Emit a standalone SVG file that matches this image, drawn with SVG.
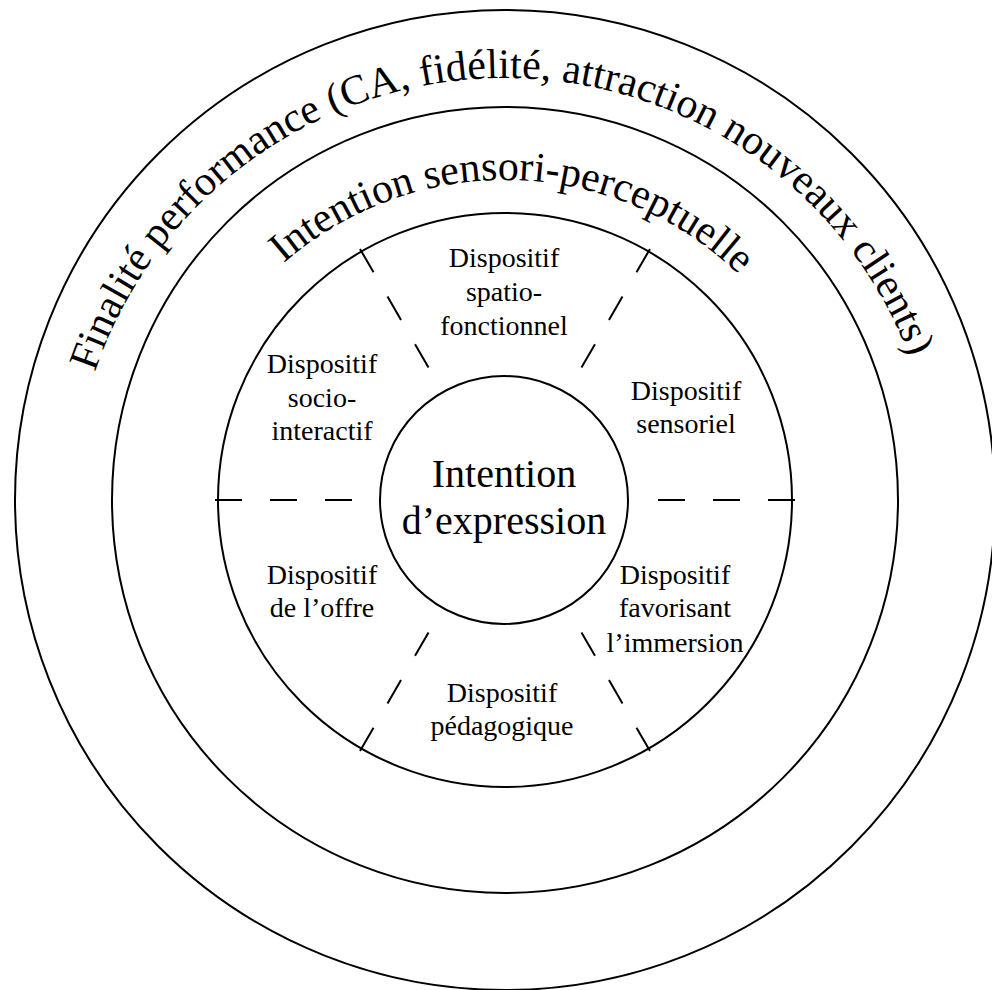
<svg xmlns="http://www.w3.org/2000/svg" width="992" height="990" viewBox="0 0 992 990">
  <style>
    .ring { fill: none; stroke: #000; stroke-width: 2; }
    .div { fill: none; stroke: #000; stroke-width: 2; stroke-dasharray: 27 28; }
    .arc { font-family: "Liberation Serif", "Times New Roman", serif; font-size: 42px; fill: #000; }
    .lbl { font-family: "Liberation Serif", "Times New Roman", serif; font-size: 28px; fill: #000; text-anchor: middle; }
    .core { font-family: "Liberation Serif", "Times New Roman", serif; font-size: 40px; fill: #000; text-anchor: middle; }
  </style>
  <defs>
    <path id="pOuter" d="M 72 511 A 433 433 0 0 1 938 511"/>
    <path id="pMid" d="M 169 516 A 336 336 0 0 1 841 516"/>
  </defs>
  <rect width="992" height="990" fill="#fff"/>

  <g id="ring-finalite">
    <circle class="ring" cx="505" cy="500" r="490"/>
    <text class="arc" text-anchor="middle"><textPath href="#pOuter" startOffset="672">Finalité performance (CA, fidélité, attraction nouveaux clients)</textPath></text>
  </g>

  <g id="ring-intention">
    <circle class="ring" cx="505" cy="500" r="393"/>
    <text class="arc" text-anchor="middle"><textPath href="#pMid" startOffset="536">Intention sensori-perceptuelle</textPath></text>
  </g>

  <g id="ring-dispositifs">
    <circle class="ring" cx="505" cy="500" r="287"/>
  </g>

  <g id="connectors">
    <line class="div" x1="215" y1="500" x2="352.5" y2="500"/>
    <line class="div" x1="795" y1="500" x2="657.5" y2="500"/>
    <line class="div" x1="360" y1="248.9" x2="428.75" y2="367.9"/>
    <line class="div" x1="650" y1="248.9" x2="581.25" y2="367.9"/>
    <line class="div" x1="360" y1="751.1" x2="428.75" y2="632.1"/>
    <line class="div" x1="650" y1="751.1" x2="581.25" y2="632.1"/>
  </g>

  <g id="core">
    <circle class="ring" cx="504" cy="500" r="124"/>
    <text class="core" x="504" y="487">Intention</text>
    <text class="core" x="504" y="534">d’expression</text>
  </g>

  <g id="d-spatio">
    <text class="lbl" x="504" y="267">Dispositif</text>
    <text class="lbl" x="504" y="301">spatio-</text>
    <text class="lbl" x="504" y="335">fonctionnel</text>
  </g>
  <g id="d-socio">
    <text class="lbl" x="322" y="373">Dispositif</text>
    <text class="lbl" x="322" y="407">socio-</text>
    <text class="lbl" x="322" y="440">interactif</text>
  </g>
  <g id="d-sensoriel">
    <text class="lbl" x="686" y="400">Dispositif</text>
    <text class="lbl" x="686" y="433">sensoriel</text>
  </g>
  <g id="d-offre">
    <text class="lbl" x="322" y="584">Dispositif</text>
    <text class="lbl" x="322" y="617">de l’offre</text>
  </g>
  <g id="d-immersion">
    <text class="lbl" x="675" y="584">Dispositif</text>
    <text class="lbl" x="675" y="617">favorisant</text>
    <text class="lbl" x="675" y="652">l’immersion</text>
  </g>
  <g id="d-pedago">
    <text class="lbl" x="502" y="702">Dispositif</text>
    <text class="lbl" x="502" y="735">pédagogique</text>
  </g>
</svg>
